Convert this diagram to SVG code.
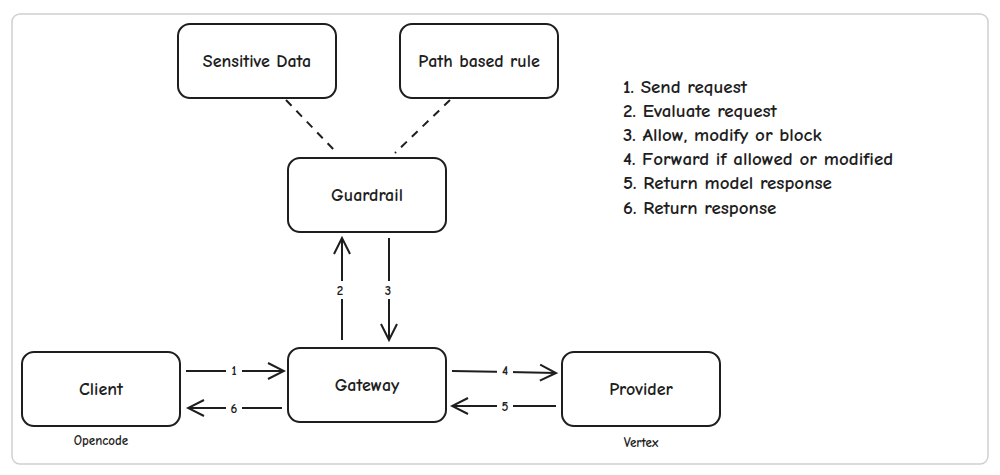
<svg xmlns="http://www.w3.org/2000/svg" width="1000" height="475" viewBox="0 0 1000 475">
<style>
.box{fill:#fff;stroke:#1e1e1e;stroke-width:2}
.t{font-family:"Comic Neue","Liberation Sans",sans-serif;font-size:18px;font-weight:bold;fill:#1e1e1e;text-anchor:middle;dominant-baseline:central}
.s{font-size:13px}
.l{text-anchor:start;font-size:19px}
.c{stroke:#1e1e1e;stroke-width:2;fill:none;marker-end:url(#ah)}
.d{stroke:#1e1e1e;stroke-width:2;fill:none;stroke-dasharray:8 7}
</style>
<defs>
<marker id="ah" viewBox="0 0 20 20" refX="18" refY="10" markerWidth="20" markerHeight="20" markerUnits="userSpaceOnUse" orient="auto">
<path d="M2,2 L18,10 L2,18" fill="none" stroke="#1e1e1e" stroke-width="2"/>
</marker>
</defs>
<rect x="0" y="0" width="1000" height="475" fill="#fff"/>
<rect x="12" y="14" width="976" height="450" rx="8" fill="#fff" stroke="#d0d0d0" stroke-width="1.5"/>
<g id="connectors">
<path class="d" d="M286,100 L336,152"/>
<path class="d" d="M450,100 L395,153"/>
<path class="c" d="M342,340 L342,238"/>
<path class="c" d="M389,238 L389,340"/>
<path class="c" d="M186,371 L284,371"/>
<path class="c" d="M282,408 L188,408"/>
<path class="c" d="M452,371 L556,373"/>
<path class="c" d="M556,406 L452,406"/>
<rect x="226" y="361" width="16" height="18" fill="#fff"/><text class="t s" x="234" y="370">1</text>
<rect x="226" y="399" width="16" height="18" fill="#fff"/><text class="t s" x="234" y="408">6</text>
<rect x="497" y="361" width="16" height="18" fill="#fff"/><text class="t s" x="505" y="370">4</text>
<rect x="497" y="397" width="16" height="18" fill="#fff"/><text class="t s" x="505" y="406">5</text>
<rect x="332" y="281" width="18" height="18" fill="#fff"/><text class="t s" x="340" y="290">2</text>
<rect x="380" y="281" width="18" height="18" fill="#fff"/><text class="t s" x="388" y="290">3</text>
</g>
<g id="sensitive"><rect class="box" x="178" y="24" width="158" height="74" rx="12"/><text class="t" x="257" y="61">Sensitive Data</text></g>
<g id="path"><rect class="box" x="400" y="24" width="158" height="74" rx="12"/><text class="t" x="479" y="61">Path based rule</text></g>
<g id="guardrail"><rect class="box" x="288" y="158" width="158" height="74" rx="12"/><text class="t" x="367" y="195">Guardrail</text></g>
<g id="client"><rect class="box" x="22" y="352" width="158" height="74" rx="12"/><text class="t" x="101" y="389">Client</text><text class="t s" x="101" y="440">Opencode</text></g>
<g id="gateway"><rect class="box" x="288" y="348" width="158" height="74" rx="12"/><text class="t" x="367" y="385">Gateway</text></g>
<g id="provider"><rect class="box" x="562" y="352" width="158" height="74" rx="12"/><text class="t" x="641" y="389">Provider</text><text class="t s" x="641" y="442">Vertex</text></g>
<g id="legend">
<text class="t l" x="623" y="87">1. Send request</text>
<text class="t l" x="623" y="111">2. Evaluate request</text>
<text class="t l" x="623" y="135">3. Allow, modify or block</text>
<text class="t l" x="623" y="159">4. Forward if allowed or modified</text>
<text class="t l" x="623" y="183">5. Return model response</text>
<text class="t l" x="623" y="208">6. Return response</text>
</g>
</svg>
